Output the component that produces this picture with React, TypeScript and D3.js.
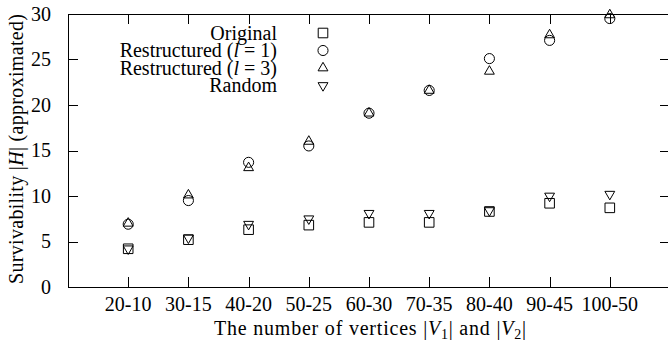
import { useRef, useEffect } from "react"
import * as d3 from "d3"

// categories on the x axis (|V1|-|V2|)
const categories = ["20-10", "30-15", "40-20", "50-25", "60-30", "70-35", "80-40", "90-45", "100-50"]

// survivability values
const original = [4.2, 5.2, 6.3, 6.8, 7.1, 7.1, 8.3, 9.2, 8.7]
const restructured1 = [6.9, 9.5, 13.7, 15.5, 19.1, 21.6, 25.1, 27.1, 29.5]
const restructured3 = [7.0, 10.1, 13.1, 16.0, 19.1, 21.6, 23.7, 27.7, 29.9]
const random = [4.2, 5.4, 6.9, 7.5, 8.1, 8.1, 8.4, 10.0, 10.2]

const yTicks = [0, 5, 10, 15, 20, 25, 30]

const FONT = "'Liberation Serif', 'Times New Roman', serif"

export default function App() {
  const svgRef = useRef<SVGSVGElement | null>(null)

  useEffect(() => {
    if (!svgRef.current) return
    const svg = d3.select(svgRef.current)
    svg.selectAll("*").remove()

    const left = 68
    const right = 670
    const top = 14
    const bottom = 287
    const tickLen = 10

    const x = d3.scaleLinear().domain([0, categories.length + 1]).range([left, right])
    const y = d3.scaleLinear().domain([0, 30]).range([bottom, top])

    const g = svg.append("g").style("font-family", FONT).style("font-size", "20px")

    // ticks (mirrored on all four sides, gnuplot style)
    const ticks = g.append("g").attr("stroke", "#000").attr("stroke-width", 1).attr("shape-rendering", "crispEdges")
    categories.forEach((_, i) => {
      const px = Math.round(x(i + 1)) + 0.5
      ticks.append("line").attr("x1", px).attr("x2", px).attr("y1", bottom).attr("y2", bottom - tickLen)
      ticks.append("line").attr("x1", px).attr("x2", px).attr("y1", top).attr("y2", top + tickLen)
    })
    yTicks.forEach((t) => {
      const py = Math.round(y(t)) + 0.5
      ticks.append("line").attr("x1", left).attr("x2", left + tickLen).attr("y1", py).attr("y2", py)
      ticks.append("line").attr("x1", right).attr("x2", right - tickLen).attr("y1", py).attr("y2", py)
    })

    // border
    g.append("rect")
      .attr("x", left + 0.5)
      .attr("y", top + 0.5)
      .attr("width", right - left)
      .attr("height", bottom - top)
      .attr("fill", "none")
      .attr("stroke", "#000")
      .attr("stroke-width", 1)
      .attr("shape-rendering", "crispEdges")

    // tick labels
    g.selectAll(".xlab")
      .data(categories)
      .enter()
      .append("text")
      .attr("class", "xlab")
      .attr("x", (_, i) => x(i + 1))
      .attr("y", 311)
      .attr("text-anchor", "middle")
      .text((d) => d)

    g.selectAll(".ylab")
      .data(yTicks)
      .enter()
      .append("text")
      .attr("class", "ylab")
      .attr("x", 51)
      .attr("y", (d) => y(d))
      .attr("dy", "0.33em")
      .attr("text-anchor", "end")
      .text((d) => d)

    // x axis title
    const xt = g
      .append("text")
      .attr("x", 370)
      .attr("y", 335)
      .attr("text-anchor", "middle")
      .attr("textLength", 312)
      .attr("lengthAdjust", "spacing")
    xt.append("tspan").text("The number of vertices |")
    xt.append("tspan").attr("font-style", "italic").text("V")
    xt.append("tspan").attr("font-size", "14px").attr("dy", 4).text("1")
    xt.append("tspan").attr("dy", -4).text("| and |")
    xt.append("tspan").attr("font-style", "italic").text("V")
    xt.append("tspan").attr("font-size", "14px").attr("dy", 4).text("2")
    xt.append("tspan").attr("dy", -4).text("|")

    // y axis title
    const yt = g
      .append("text")
      .attr("transform", `translate(23,149) rotate(-90)`)
      .attr("text-anchor", "middle")
      .attr("textLength", 270)
      .attr("lengthAdjust", "spacing")
    yt.append("tspan").text("Survivability |")
    yt.append("tspan").attr("font-style", "italic").text("H")
    yt.append("tspan").text("| (approximated)")

    // symbols
    const square = d3.symbol().type(d3.symbolSquare).size(92)
    const circle = d3.symbol().type(d3.symbolCircle).size(80)
    const triangle = d3.symbol().type(d3.symbolTriangle).size(42)

    const series = [
      { name: "Original", sub: null, values: original, path: square(), rot: 0 },
      { name: "Restructured (", sub: "1", values: restructured1, path: circle(), rot: 0 },
      { name: "Restructured (", sub: "3", values: restructured3, path: triangle(), rot: 0 },
      { name: "Random", sub: null, values: random, path: triangle(), rot: 180 },
    ]

    const marks = g.append("g").attr("fill", "none").attr("stroke", "#000").attr("stroke-width", 1)
    series.forEach((s) => {
      marks
        .selectAll(null)
        .data(s.values)
        .enter()
        .append("path")
        .attr("d", s.path as string)
        .attr("transform", (d, i) => `translate(${x(i + 1)},${y(d)}) rotate(${s.rot})`)
    })

    // legend
    const legendY = [33, 50.5, 68, 85.5]
    series.forEach((s, i) => {
      const t = g.append("text").attr("x", 277).attr("y", legendY[i]).attr("dy", "0.33em").attr("text-anchor", "end")
      t.append("tspan").text(s.name)
      if (s.sub) {
        t.append("tspan").attr("font-style", "italic").text("l")
        t.append("tspan").text(` = ${s.sub})`)
      }
      marks
        .append("path")
        .attr("d", s.path as string)
        .attr("transform", `translate(323,${legendY[i]}) rotate(${s.rot})`)
    })
  }, [])

  return (
    <svg
      ref={svgRef}
      width={668}
      height={341}
      style={{ position: "absolute", left: 0, top: 0, background: "#fff" }}
    ></svg>
  )
}
